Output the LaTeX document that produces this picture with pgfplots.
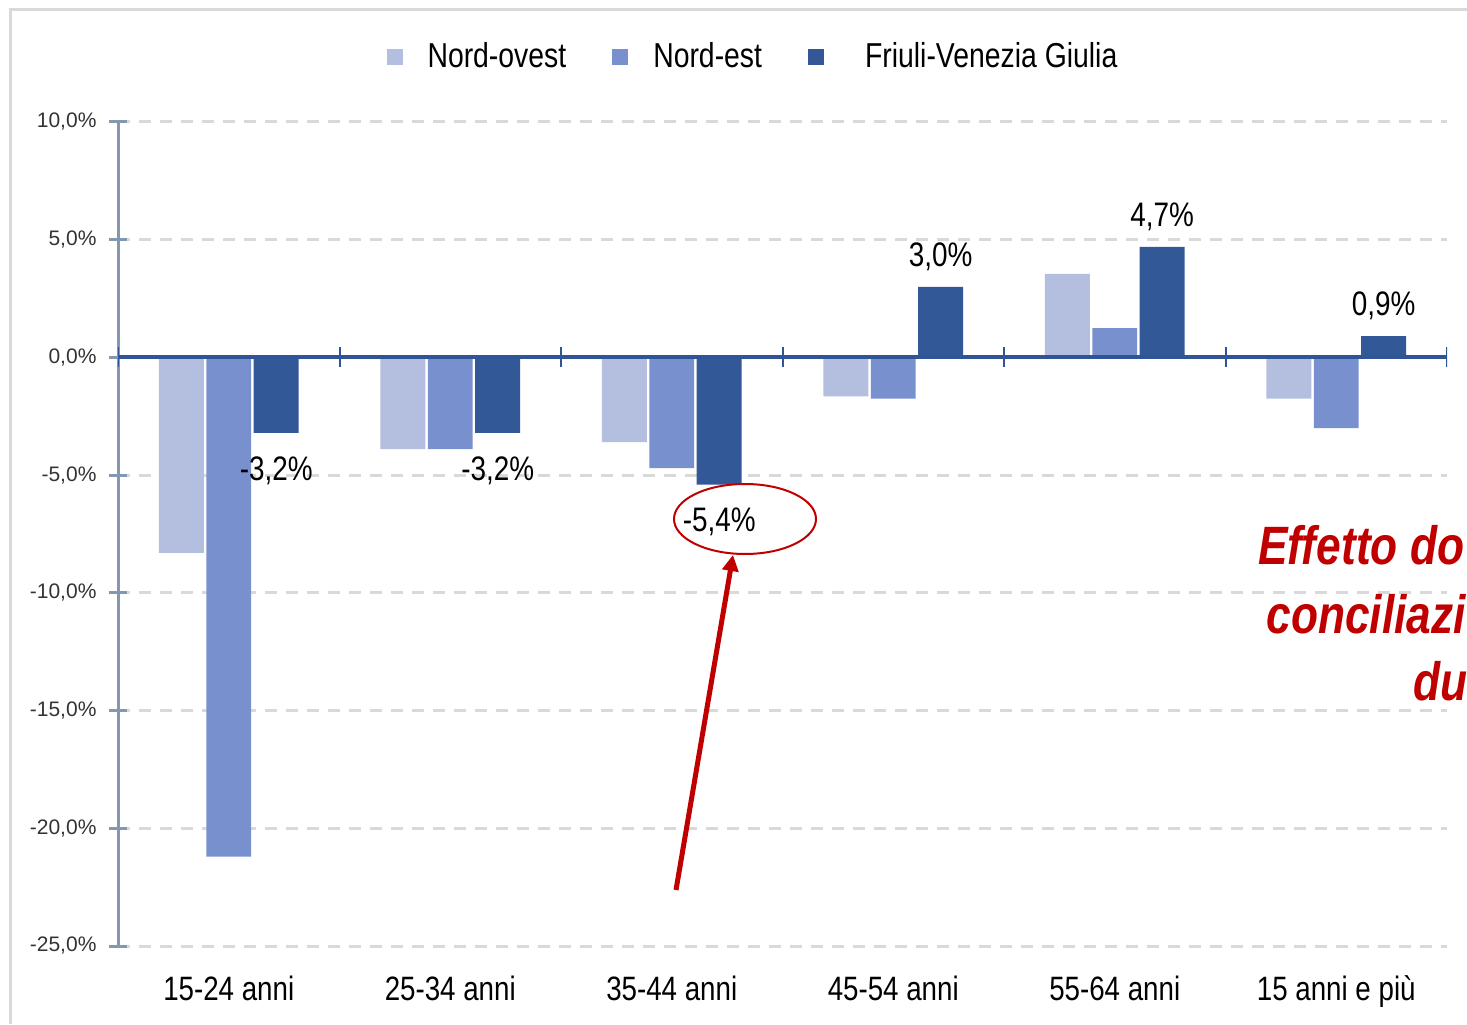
\documentclass[border=0pt]{standalone}
\usepackage{fontspec}
\setmainfont{Liberation Sans}[FakeStretch=0.82]
\newfontfamily\tickfont{Liberation Sans}
\usepackage{pgfplots}
\pgfplotsset{compat=1.18}
\usetikzlibrary{arrows.meta}

\definecolor{nordovest}{HTML}{B4BEDF}
\definecolor{nordest}{HTML}{7891CE}
\definecolor{fvg}{HTML}{325897}
\definecolor{zeroline}{HTML}{2F5597}
\definecolor{yaxis}{HTML}{8497B0}
\definecolor{gridgray}{HTML}{D9D9D9}
\definecolor{redmark}{HTML}{C00000}

\begin{document}
\begin{tikzpicture}
\clip (0pt,0pt) rectangle (733.5pt,512pt);
% light frame, top and left
\begin{scope}[x=0.5pt,y=0.5pt]
\draw[gridgray, line width=1.5pt] (10,0) -- (10,1014) -- (1480,1014);
\end{scope}

\begin{axis}[
    at={(59pt,39pt)}, anchor=south west,
    scale only axis,
    width=664.5pt, height=412pt,
    xmin=-0.5, xmax=5.5,
    ymin=-25, ymax=10,
    ybar=1.25pt,
    bar width=0.203,
    axis x line*=bottom,
    axis y line*=left,
    x axis line style={draw=none},
    y axis line style={draw=yaxis, line width=1.5pt, -},
    xtick={0,1,2,3,4,5},
    xticklabels={15-24 anni, 25-34 anni, 35-44 anni, 45-54 anni, 55-64 anni, 15 anni e più},
    xtick style={draw=none},
    xticklabel style={font=\fontsize{16.9}{18}\selectfont, text=black, yshift=-3pt},
    ytick={-25,-20,-15,-10,-5,0,5,10},
    yticklabels={{-25,0\%},{-20,0\%},{-15,0\%},{-10,0\%},{-5,0\%},{0,0\%},{5,0\%},{10,0\%}},
    yticklabel style={font=\tickfont\fontsize{10.5}{12}\selectfont, text=black!80, xshift=-3pt},
    ytick align=center,
    major tick length=8.5pt,
    ytick style={draw=yaxis, line width=1.5pt},
    ymajorgrids,
    grid style={gridgray, line width=1.5pt, dash pattern=on 6pt off 4.5pt},
    legend style={
        at={(0.477,1.079)}, anchor=center,
        draw=none, fill=none,
        legend columns=3,
        font=\fontsize{17.3}{19}\selectfont,
        nodes={inner sep=0pt},
        /tikz/every odd column/.append style={column sep=12.5pt},
        /tikz/every even column/.append style={column sep=23pt},
    },
    legend image code/.code={\fill[#1] (0pt,-4pt) rectangle (8pt,4pt);},
    nodes near coords style={font=\fontsize{17}{19}\selectfont, text=black},
]
% Nord-ovest
\addplot[fill=nordovest, draw=none] coordinates {
    (0,-8.3) (1,-3.9) (2,-3.6) (3,-1.65) (4,3.55) (5,-1.75)
};
% Nord-est
\addplot[fill=nordest, draw=none] coordinates {
    (0,-21.2) (1,-3.9) (2,-4.7) (3,-1.75) (4,1.25) (5,-3.0)
};
% Friuli-Venezia Giulia
\addplot[fill=fvg, draw=none,
    point meta=y,
    nodes near coords={\pgfmathprintnumber[fixed,fixed zerofill,precision=1,use comma,assume math mode=true]{\pgfplotspointmeta}\%},
    nodes near coords align={vertical},
    every node near coord/.append style={inner xsep=0pt, inner ysep=8pt, text height=15.5pt}] coordinates {
    (0,-3.2)
    (1,-3.2)
    (2,-5.4)
    (3,3.0)
    (4,4.7)
    (5,0.9)
};
\legend{Nord-ovest, Nord-est, \hspace*{8pt}Friuli-Venezia Giulia}

% zero line with category separators
\draw[zeroline, line width=2pt] (axis cs:-0.5,0) -- (axis cs:5.5,0);
\pgfplotsinvokeforeach{-0.5,0.5,1.5,2.5,3.5,4.5,5.5}{
    \draw[zeroline, line width=1pt] ([yshift=-5pt]axis cs:#1,0) -- ([yshift=5pt]axis cs:#1,0);
}
\end{axis}

\begin{scope}[x=0.5pt,y=0.5pt]
\draw[redmark, line width=1pt] (745,505) ellipse [x radius=71, y radius=35];
\draw[redmark, line width=2.5pt, -{Triangle[width=8pt,length=8pt]}] (676,134) -- (733,469);
\node[anchor=base west, inner sep=0pt, text=redmark, font=\bfseries\itshape\fontsize{27}{30}\selectfont] at (1258,459) {Effetto do};
\node[anchor=base west, inner sep=0pt, text=redmark, font=\bfseries\itshape\fontsize{27}{30}\selectfont] at (1266,391) {conciliazi};
\node[anchor=base west, inner sep=0pt, text=redmark, font=\bfseries\itshape\fontsize{27}{30}\selectfont] at (1413,324) {du};
\end{scope}
\end{tikzpicture}
\end{document}
